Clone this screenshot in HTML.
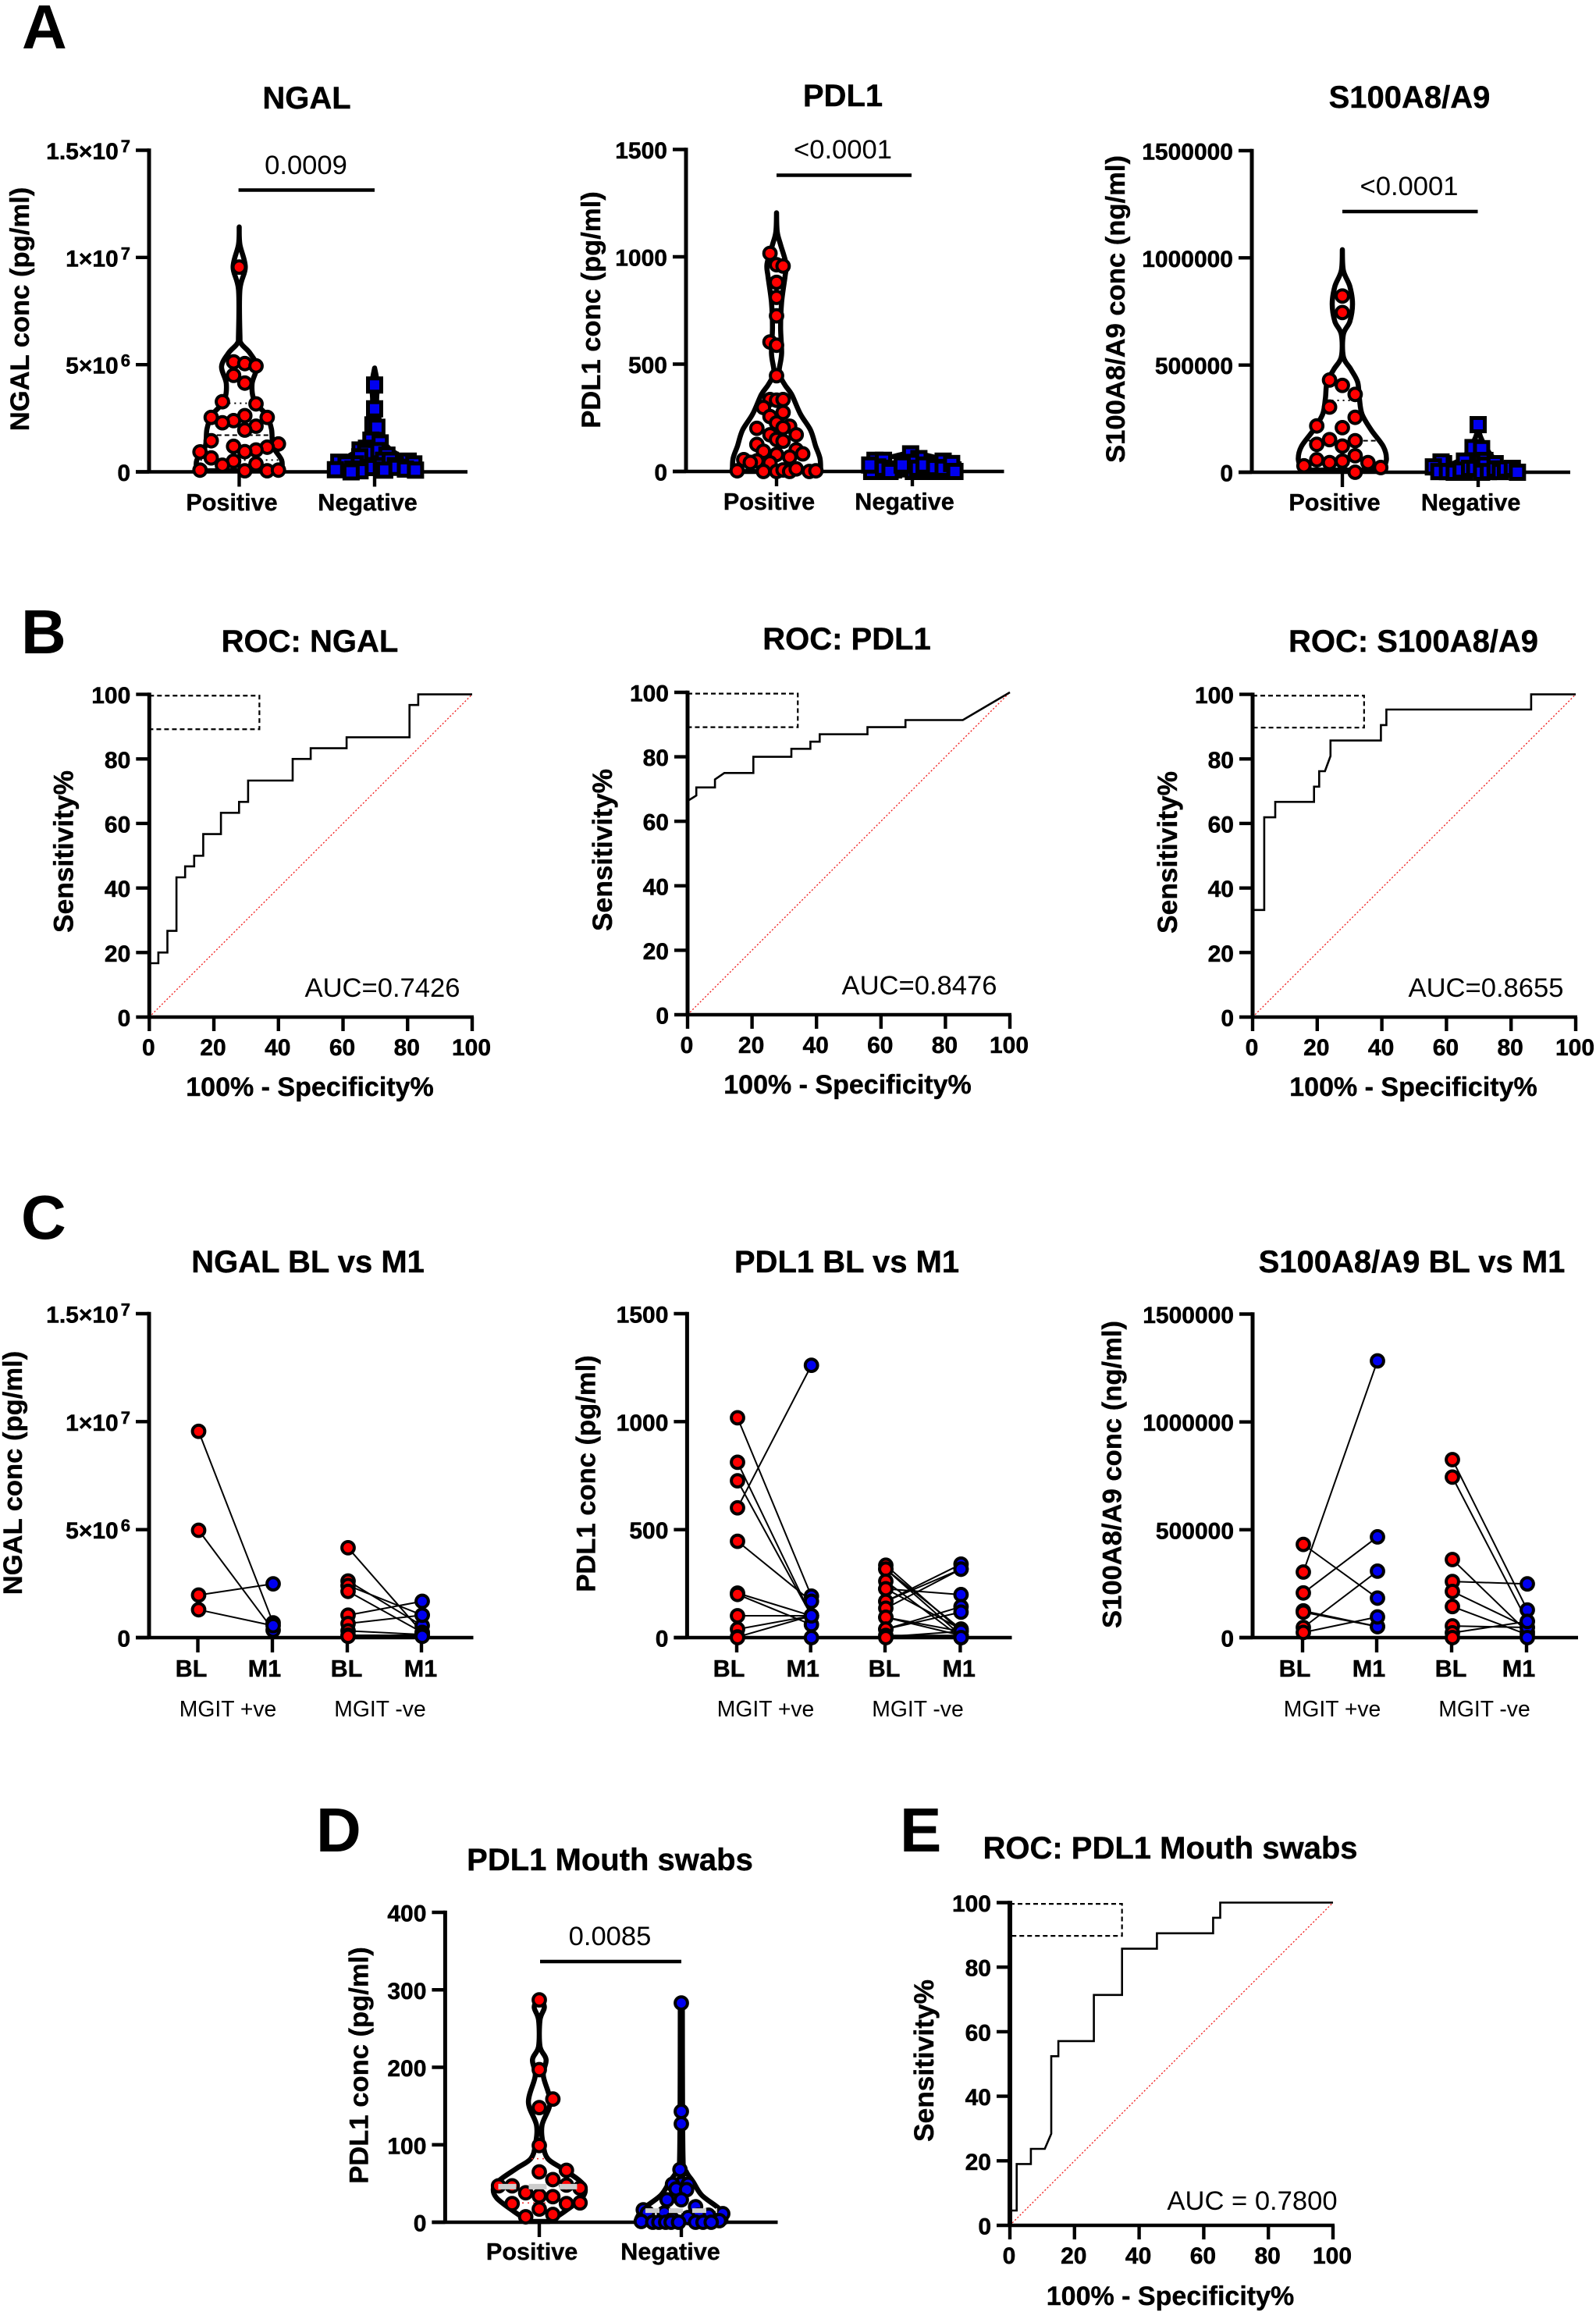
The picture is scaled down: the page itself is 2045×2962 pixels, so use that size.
<!DOCTYPE html>
<html lang="en">
<head>
<meta charset="utf-8">
<title>NGAL, PDL1 and S100A8/A9 figure</title>
<style>
html,body{margin:0;padding:0;background:#fff;}
svg{display:block;font-family:"Liberation Sans",Arial,sans-serif;fill:#000;}
.panel{font-weight:700;font-size:80px;}
.title{font-weight:700;font-size:40px;text-anchor:middle;stroke:#000;stroke-width:.4;}
.ylab{font-weight:700;font-size:34.6px;text-anchor:middle;stroke:#000;stroke-width:.4;}
.sens{font-weight:700;font-size:35.3px;text-anchor:middle;stroke:#000;stroke-width:.4;}
.xlab{font-weight:700;font-size:34px;text-anchor:middle;stroke:#000;stroke-width:.4;}
.cat{font-weight:700;font-size:30.6px;text-anchor:middle;stroke:#000;stroke-width:.4;}
.sig{font-weight:400;font-size:34.6px;text-anchor:middle;}
.grp{font-weight:400;font-size:28.3px;text-anchor:middle;}
.tick{stroke:#000;stroke-width:.5;}
</style>
</head>
<body>
<svg id="figure" xmlns="http://www.w3.org/2000/svg" width="2045" height="2962" viewBox="0 0 2045 2962">
<rect x="0" y="0" width="2045" height="2962" fill="#fff"/>

<text class="panel" x="28" y="62">A</text>
<text class="panel" x="27" y="837">B</text>
<text class="panel" x="27" y="1587">C</text>
<text class="panel" x="405" y="2372">D</text>
<text class="panel" x="1153" y="2372">E</text>

<!-- Panel A -->
<g id="a1">
<text class="title" x="393" y="139">NGAL</text>
<text class="ylab" transform="translate(37,396) rotate(-90)">NGAL conc (pg/ml)</text>
<text class="sig" x="392" y="223">0.0009</text>
<text class="cat" x="297" y="654">Positive</text>
<text class="cat" x="471" y="654">Negative</text>
</g>
<g id="a2">
<text class="title" x="1080" y="136">PDL1</text>
<text class="ylab" transform="translate(769,397) rotate(-90)">PDL1 conc (pg/ml)</text>
<text class="sig" x="1080" y="203">&lt;0.0001</text>
<text class="cat" x="985.5" y="653">Positive</text>
<text class="cat" x="1159" y="653">Negative</text>
</g>
<g id="a3">
<text class="title" x="1806" y="138">S100A8/A9</text>
<text class="ylab" transform="translate(1441,396) rotate(-90)">S100A8/A9 conc (ng/ml)</text>
<text class="sig" x="1805.5" y="250">&lt;0.0001</text>
<text class="cat" x="1710" y="654">Positive</text>
<text class="cat" x="1884.6" y="654">Negative</text>
</g>

<!-- Panel B -->
<g id="b1">
<text class="title" x="397" y="835">ROC: NGAL</text>
<text class="sens" transform="translate(93.5,1091) rotate(-90)">Sensitivity%</text>
<text class="xlab" x="397" y="1404">100% - Specificity%</text>
<text class="sig" x="490" y="1277">AUC=0.7426</text>
</g>
<g id="b2">
<text class="title" x="1085" y="832">ROC: PDL1</text>
<text class="sens" transform="translate(784,1089) rotate(-90)">Sensitivity%</text>
<text class="xlab" x="1086" y="1401">100% - Specificity%</text>
<text class="sig" x="1178" y="1274">AUC=0.8476</text>
</g>
<g id="b3">
<text class="title" x="1811" y="835">ROC: S100A8/A9</text>
<text class="sens" transform="translate(1508,1092) rotate(-90)">Sensitivity%</text>
<text class="xlab" x="1811" y="1404">100% - Specificity%</text>
<text class="sig" x="1904" y="1277">AUC=0.8655</text>
</g>

<!-- Panel C -->
<g id="c1">
<text class="title" x="394.6" y="1630">NGAL BL vs M1</text>
<text class="ylab" transform="translate(28,1887) rotate(-90)">NGAL conc (pg/ml)</text>
<text class="cat" x="245" y="2148">BL</text>
<text class="cat" x="339" y="2148">M1</text>
<text class="cat" x="444" y="2148">BL</text>
<text class="cat" x="539" y="2148">M1</text>
<text class="grp" x="292" y="2199">MGIT +ve</text>
<text class="grp" x="487" y="2199">MGIT -ve</text>
</g>
<g id="c2">
<text class="title" x="1085" y="1630">PDL1 BL vs M1</text>
<text class="ylab" transform="translate(762.6,1888) rotate(-90)">PDL1 conc (pg/ml)</text>
<text class="cat" x="934" y="2148">BL</text>
<text class="cat" x="1028.7" y="2148">M1</text>
<text class="cat" x="1133" y="2148">BL</text>
<text class="cat" x="1228.7" y="2148">M1</text>
<text class="grp" x="981" y="2199">MGIT +ve</text>
<text class="grp" x="1176" y="2199">MGIT -ve</text>
</g>
<g id="c3">
<text class="title" x="1809" y="1630">S100A8/A9 BL vs M1</text>
<text class="ylab" transform="translate(1436.6,1889) rotate(-90)">S100A8/A9 conc (ng/ml)</text>
<text class="cat" x="1659" y="2148">BL</text>
<text class="cat" x="1754" y="2148">M1</text>
<text class="cat" x="1859" y="2148">BL</text>
<text class="cat" x="1946" y="2148">M1</text>
<text class="grp" x="1707" y="2199">MGIT +ve</text>
<text class="grp" x="1902" y="2199">MGIT -ve</text>
</g>

<!-- Panel D -->
<g id="d1">
<text class="title" x="781.5" y="2396">PDL1 Mouth swabs</text>
<text class="ylab" transform="translate(471.7,2646) rotate(-90)">PDL1 conc (pg/ml)</text>
<text class="sig" x="781.5" y="2492">0.0085</text>
<text class="cat" x="681.6" y="2895">Positive</text>
<text class="cat" x="859" y="2895">Negative</text>
</g>

<!-- Panel E -->
<g id="e1">
<text class="title" x="1499.5" y="2381">ROC: PDL1 Mouth swabs</text>
<text class="sens" transform="translate(1196,2640) rotate(-90)">Sensitivity%</text>
<text class="xlab" x="1499.5" y="2953">100% - Specificity%</text>
<text class="sig" x="1604.5" y="2831">AUC = 0.7800</text>
</g>
</svg>

<script>
/* ---------- tick values and tick labels ---------- */
const ngalTicks = [0, 5e6, 1e7, 1.5e7];
const ngalTickLabels = ['0', '5×10^6', '1×10^7', '1.5×10^7'];
const pdl1Ticks = [0, 500, 1000, 1500];
const pdl1TickLabels = ['0', '500', '1000', '1500'];
const s100Ticks = [0, 500000, 1000000, 1500000];
const s100TickLabels = ['0', '500000', '1000000', '1500000'];
const mouthTicks = [0, 100, 200, 300, 400];
const mouthTickLabels = ['0', '100', '200', '300', '400'];
const rocTicks = [0, 20, 40, 60, 80, 100];
const rocTickLabels = ['0', '20', '40', '60', '80', '100'];

/* ---------- A: NGAL ---------- */
const ngalPosValues = [9.55e6,5.13e6,5.05e6,4.94e6,4.5e6,4.14e6,3.27e6,3.17e6,2.54e6,2.54e6,2.62e6,2.39e6,2.29e6,2.13e6,1.95e6,1.45e6,1.3e6,1.19e6,1.15e6,1.02e6,0.94e6,0.93e6,0.65e6,0.5e6,0.31e6,0.37e6,0.08e6,0.05e6,0.05e6,0.08e6];
const ngalPosSlots = [0,-0.5,0.5,1.5,-0.5,0.5,-1.5,1.5,-2.5,2.5,0.5,-0.5,-1.5,1.5,0.5,-2.5,3.5,-0.5,2.5,1.5,0.5,-3.5,-2.5,-0.5,-1.5,1.5,-3.5,0.5,2.5,3.5];
const ngalNegValues = [4.05e6,2.94e6,2.19e6,2.08e6,1.48e6,1.35e6,1.1e6,1.02e6,0.99e6,0.9e6,0.78e6,0.7e6,0.54e6,0.54e6,0.5e6,0.45e6,0.37e6,0.37e6,0.37e6,0.29e6,0.29e6,0.2e6,0.13e6,0.1e6,0.05e6,0,0.08e6,0.21e6,0.13e6,0.08e6];
const ngalNegSlots = [0,0,-0.15,0.2,-0.33,0.5,-0.73,-1.3,0.2,-0.8,1.1,-1.33,0.8,1.4,3,-3.2,-1.7,-2.55,3.5,0.2,1.85,-0.58,-1.94,-3.5,-1.3,-2.1,0.9,2,2.75,3.65];
const ngalPosDensityAt = [11.42e6,10.6e6,9.55e6,8.5e6,6.39e6,5.98e6,5.57e6,4.92e6,4.11e6,3.3e6,2.65e6,2e6,1.19e6,0.54e6,0.05e6];
const ngalPosDensity = [0,0.02,0.18,0.02,0.02,0.06,0.3,0.52,0.38,0.45,0.8,0.95,1,1.25,1.25];
const ngalNegDensityAt = [4.84e6,4.1e6,3.3e6,2.5e6,1.5e6,1e6,0.5e6,0];
const ngalNegDensity = [0,0.08,0.06,0.12,0.25,0.5,1,1.3];
const ngalPosMedian = [1.71e6];
const ngalPosQuartiles = [3.2e6, 0.55e6];

/* ---------- A: PDL1 ---------- */
const pdl1PosValues = [1016,963,957,881,811,725,603,588,446,335,332,335,298,275,256,226,211,204,201,171,171,149,141,126,101,94,82,79,67,49,55,42,40,3,0,0,7,0,12,0,3];
const pdl1PosSlots = [-1,0,1,0,0,0,-1,0,0,-1,0,1,-2,1,-1,0,2,1,-3,3,-1,0,1,-3,3,-2,4,0,2,-3,-5,-4,-1,-6,-2,0,1,2,3,5,6];
const pdl1NegValues = [52,52,21,0,0,12,82,60,42,0,0,3,48,0,7,0,7,15,0,30,15,30,18,15,37,0,30];
const pdl1NegSlots = [-5.7,-4.4,-5.3,-6.2,-4.1,-2.2,-0.26,1,-0.26,0.15,1.5,2.85,4.7,5.2,6.2,3.9,-2.85,-4.4,-3.4,-1.55,0.8,1.8,3.4,4.7,6,6.5,-6.5];
const pdl1PosDensityAt = [1205,1116,1056,967,908,789,670,551,476,446,402,357,268,193,119,60,0];
const pdl1PosDensity = [0,0.02,0.12,0.28,0.25,0.15,0.12,0.15,0.08,0.1,0.25,0.45,0.7,1,1.15,1.28,1.3];
const pdl1NegDensityAt = [80,50,20,0];
const pdl1NegDensity = [0.3,1,1.2,1.25];

/* ---------- A: S100A8/A9 ---------- */
const s100PosValues = [822000,745000,430000,405000,363000,304000,256000,216000,208000,152000,147000,130000,122000,77000,58000,45000,52000,45000,30000,22000,0];
const s100PosSlots = [0,0,-1,0,1,-1,1,-2,0,-1,1,-2,0,1,-2,-1,0,2,-3,3,1];
const s100NegValues = [222000,115000,110000,55000,48000,40000,48000,25000,3000,52000,3000,0,0,10000,18000,18000,33000,0,3000,40000,15000,3000,15000,18000,0];
const s100NegSlots = [0,-0.4,0.27,0.53,-0.8,-2.7,-2.9,-3.5,-3.07,-1.07,-2.4,-1.87,-1.07,-1.33,-0.67,-0.27,0.53,0.27,0.8,1.33,1.33,1.73,2.13,2.67,3.07];
const s100PosDensityAt = [1038000,941000,867000,785000,703000,643000,539000,480000,420000,345000,271000,197000,122000,63000,10000];
const s100PosDensity = [0,0.03,0.22,0.3,0.22,0.03,0.03,0.25,0.45,0.5,0.58,0.85,1.2,1.3,1.2];
const s100NegDensityAt = [235000,180000,110000,60000,30000,5000,0];
const s100NegDensity = [0.02,0.04,0.25,0.5,0.9,1.2,1.2];
const s100PosMedian = [147000];
const s100PosQuartiles = [335000];

/* ---------- B and E: ROC curve vertices ---------- */
const rocNgalFpr = [0,2.8,2.8,5.6,5.6,8.4,8.4,11.1,11.1,13.9,13.9,16.7,16.7,22.2,22.2,27.8,27.8,30.6,30.6,44.4,44.4,50,50,61.1,61.1,80.6,80.6,83.3,83.3,100];
const rocNgalTpr = [16.7,16.7,20,20,26.7,26.7,43.3,43.3,46.7,46.7,50,50,56.7,56.7,63.3,63.3,66.7,66.7,73.3,73.3,80,80,83.3,83.3,86.7,86.7,96.7,96.7,100,100];
const rocPdl1Fpr = [0,2.7,2.7,8.5,8.5,11.4,20.4,20.4,32.2,32.2,38.1,38.1,41,41,55.8,55.8,67.6,67.6,85.4,100];
const rocPdl1Tpr = [66.3,68,70.5,70.5,73,75,75,80,80,82.5,82.5,84.7,84.7,87,87,89.2,89.2,91.4,91.4,100];
const rocS100Fpr = [0,3.6,3.6,7,7,19,19,20.6,20.6,22.4,24.1,24.1,39.7,39.7,41.4,41.4,86.2,86.2,100];
const rocS100Tpr = [33.2,33.2,61.9,61.9,66.7,66.7,71.4,71.4,76.2,76.2,80.9,85.7,85.7,90.5,90.5,95.3,95.3,100,100];
const rocMouthFpr = [0,2.1,2.1,6.5,6.5,10.8,12.8,12.8,15,15,26,26,34.7,34.7,45.5,45.5,62.9,62.9,65.1,65.1,100];
const rocMouthTpr = [4.6,4.6,19,19,23.7,23.7,28.4,52.4,52.4,57.1,57.1,71.4,71.4,85.7,85.7,90.5,90.5,95.3,95.3,100,100];

/* ---------- C: paired values (same index = same subject) ---------- */
const ngalMgitPosBL = [9.55e6,4.97e6,1.97e6,1.29e6];
const ngalMgitPosM1 = [0.68e6,0.35e6,2.49e6,0.55e6];
const ngalMgitNegBL = [4.16e6,2.62e6,2.41e6,2.14e6,1.04e6,0.65e6,0.31e6,0.11e6,0.06e6];
const ngalMgitNegM1 = [0.24e6,0.55e6,1.04e6,0.24e6,1.68e6,1.04e6,0.14e6,0.11e6,0.06e6];
const pdl1MgitPosBL = [1018,812,726,601,446,206,200,101,39,3,0];
const pdl1MgitPosM1 = [192,101,101,1261,168,101,60,101,101,101,0];
const pdl1MgitNegBL = [335,317,317,261,226,226,168,168,136,94,94,39,39,10,4,0];
const pdl1MgitNegM1 = [29,10,39,0,199,39,340,317,317,29,10,143,118,10,29,0];
const pdl1BridgeM1 = [0];
const pdl1BridgeBL = [5];
const s100MgitPosBL = [432000,304000,207000,124000,118000,47000,24000];
const s100MgitPosM1 = [183000,1283000,467000,51000,51000,308000,96000];
const s100MgitNegBL = [825000,744000,362000,260000,214000,144000,54000,22000,0];
const s100MgitNegM1 = [128000,75000,26000,249000,47000,14000,47000,75000,0];

/* ---------- D: mouth swabs ---------- */
const mouthPosValues = [287,197,159,148,99,65,67,55,48,47,47,44,38,34,33,24,24,25,17,10,7];
const mouthPosSlots = [0,0,1,0,0,0,2,1,2,-3,-2,3,-1,0,1,-2,2,3,0,1,-1];
const mouthNegValues = [283,143,127,68,50,49,49,43,42,29,29,20,16,12,12,11,9,9,6,4,2,1,0,0,0,0,0,0,0,0];
const mouthNegSlots = [0,0,0,-0.2,0,-1.3,1,-0.77,0.77,-2.1,0,2.1,-5.6,-5,-2.5,6.1,4,2.5,1,-1.3,5.6,-5.9,-4.2,-3.3,-2.3,-1.5,-0.4,2.1,3.2,4.4];
const mouthPosDensityAt = [291,278,261,227,210,189,155,125,99,82,70,55,44,31,14,1];
const mouthPosDensity = [0,0.15,0.02,0.02,0.2,0.12,0.32,0.08,0.12,0.25,0.65,1.15,1.35,1.25,0.75,0.3];
const mouthNegDensityAt = [283,82,65,52,35,18,6,0];
const mouthNegDensity = [0.03,0.05,0.15,0.35,0.6,1.1,1.3,1.3];
const mouthPosMedian = [46];
const mouthPosQuartiles = [82, 25];
const mouthNegMedian = [15];

/* ---------- drawing helpers ---------- */
const SVG_NS = 'http://www.w3.org/2000/svg';
const RED = '#ff0000';
const BLUE = '#0000f0';

function mk(parent, tag, name, props) {
  const el = document.createElementNS(SVG_NS, tag);
  
  
  for (const k in props) el.setAttribute(k, props[k]);
  parent.appendChild(el);
  return el;
}
function line(parent, name, x1, y1, x2, y2, w, extra) {
  return mk(parent, 'line', name, Object.assign({x1, y1, x2, y2, stroke: '#000', 'stroke-width': w}, extra || {}));
}
function yScale(f, max) { return v => f.y0 - v / max * (f.y0 - f.y1); }

function tickText(parent, name, x, y, str, anchor) {
  const t = mk(parent, 'text', name, {x, y, 'text-anchor': anchor, 'font-size': 30, 'font-weight': 700, class: 'tick'});
  const parts = str.split('^');
  t.appendChild(document.createTextNode(parts[0]));
  if (parts[1]) {
    const s = document.createElementNS(SVG_NS, 'tspan');
    s.setAttribute('dx', 3);
    s.setAttribute('dy', -9);
    s.setAttribute('font-size', 22);
    s.textContent = parts[1];
    t.appendChild(s);
  }
}
function axisY(g, f, ticks, labels, max) {
  const y = yScale(f, max), w = f.w || 4.4;
  line(g, 'y-axis-line', f.x0, f.y1 - 2.2, f.x0, f.y0 + 2, f.yw || 5);
  ticks.forEach((v, i) => {
    line(g, 'y-tick', f.x0 - 17, y(v), f.x0, y(v), w);
    tickText(g, 'y-tick-label', f.x0 - 24, y(v) + 11.5, labels[i], 'end');
  });
}
function catAxis(g, f, tickXs) {
  line(g, 'x-axis-line', f.x0 - 17, f.y0, f.xEnd, f.y0, 4.4);
  tickXs.forEach(x => line(g, 'x-tick', x, f.y0, x, f.y0 + 19, 4.4));
}
function sigBar(g, x1, x2, y) { line(g, 'significance-bar', x1, y, x2, y, 4.4); }

function smooth(pts) {
  let d = '';
  for (let i = 0; i < pts.length - 1; i++) {
    const p0 = pts[Math.max(0, i - 1)], p1 = pts[i], p2 = pts[i + 1], p3 = pts[Math.min(pts.length - 1, i + 2)];
    const c1x = p1[0] + (p2[0] - p0[0]) / 6, c1y = p1[1] + (p2[1] - p0[1]) / 6;
    const c2x = p2[0] - (p3[0] - p1[0]) / 6, c2y = p2[1] - (p3[1] - p1[1]) / 6;
    d += ` C${c1x.toFixed(1)} ${c1y.toFixed(1)} ${c2x.toFixed(1)} ${c2y.toFixed(1)} ${p2[0].toFixed(1)} ${p2[1].toFixed(1)}`;
  }
  return d;
}
function violin(g, name, cx, y, at, density, densityPx, sw) {
  const right = at.map((v, i) => [cx + density[i] * densityPx, y(v)]);
  const left = at.map((v, i) => [cx - density[i] * densityPx, y(v)]).reverse();
  const d = `M${right[0][0]} ${right[0][1]}` + smooth(right) + ` L${left[0][0]} ${left[0][1]}` + smooth(left) + ' Z';
  mk(g, 'path', name, {d, fill: '#fff', stroke: '#000', 'stroke-width': sw || 6.5, 'stroke-linejoin': 'round'});
}
function densityAt(v, at, density) {
  for (let i = 0; i < at.length - 1; i++) {
    if (v <= at[i] && v >= at[i + 1]) {
      const t = (at[i] - v) / (at[i] - at[i + 1]);
      return density[i] + t * (density[i + 1] - density[i]);
    }
  }
  return 0;
}
function hLevel(g, name, cx, y, v, at, density, densityPx, style) {
  const hw = densityAt(v, at, density) * densityPx * 0.92;
  line(g, name, cx - hw, y(v), cx + hw, y(v), style.w, {'stroke-dasharray': style.dash, stroke: style.color});
}
function dots(g, name, cx, y, values, slots, slotPx, color) {
  values.forEach((v, i) => {
    mk(g, 'circle', name, {cx: cx + (slots ? slots[i] * slotPx : 0), cy: y(v), r: 7.9, fill: color, stroke: '#000', 'stroke-width': 4});
  });
}
function squares(g, name, cx, y, values, slots, slotPx, color) {
  const s = 17;
  values.forEach((v, i) => {
    mk(g, 'rect', name, {x: cx + slots[i] * slotPx - s / 2, y: y(v) - s / 2, width: s, height: s, fill: color, stroke: '#000', 'stroke-width': 5});
  });
}
function rocChart(g, f, fpr, tpr, boxX, boxY) {
  const x = v => f.x0 + v / 100 * (f.x1 - f.x0);
  const y = v => f.y0 - v / 100 * (f.y0 - f.y1);
  mk(g, 'line', 'line-of-identity', {x1: x(0), y1: y(0), x2: x(100), y2: y(100), stroke: '#f01818', 'stroke-width': 1.3, 'stroke-dasharray': '2 2.5'});
  mk(g, 'polyline', 'reference-box', {points: [[x(0), y(99.6)], [x(boxX), y(99.6)], [x(boxX), y(boxY)], [x(0), y(boxY)]].join(' '), fill: 'none', stroke: '#000', 'stroke-width': 2.2, 'stroke-dasharray': '6 4'});
  mk(g, 'polyline', 'roc-curve', {points: fpr.map((v, i) => x(v).toFixed(1) + ',' + y(tpr[i]).toFixed(1)).join(' '), fill: 'none', stroke: '#000', 'stroke-width': 2.6, 'stroke-linejoin': 'miter'});
  axisY(g, f, rocTicks, rocTickLabels, 100);
  line(g, 'x-axis-line', f.x0, f.y0, f.x1 + 2, f.y0, 4.4);
  rocTicks.forEach((v, i) => {
    line(g, 'x-tick', x(v), f.y0, x(v), f.y0 + 18, 4.4);
    tickText(g, 'x-tick-label', x(v) - 1, f.y0 + 49, rocTickLabels[i], 'middle');
  });
}
function pairs(g, name, xa, xb, y, a, b, w) {
  a.forEach((v, i) => line(g, name, xa, y(v), xb, y(b[i]), w || 2));
}
function pairedChart(g, f, ticks, labels, max, tickXs, posBL, posM1, negBL, negM1) {
  const y = yScale(f, max);
  const xs = tickXs.map(x => x + 1);
  axisY(g, f, ticks, labels, max);
  catAxis(g, f, tickXs);
  pairs(g, 'paired-line-mgit-positive', xs[0], xs[1], y, posBL, posM1);
  pairs(g, 'paired-line-mgit-negative', xs[2], xs[3], y, negBL, negM1);
  dots(g, 'point-bl-mgit-positive', xs[0], y, posBL, null, 0, RED);
  dots(g, 'point-m1-mgit-positive', xs[1], y, posM1, null, 0, BLUE);
  dots(g, 'point-bl-mgit-negative', xs[2], y, negBL, null, 0, RED);
  dots(g, 'point-m1-mgit-negative', xs[3], y, negM1, null, 0, BLUE);
}
const get = id => document.getElementById(id);
const DENSITY_PX = 43.5;
const thinMedian = {w: 2, dash: '6 4', color: '#000'};
const thinQuart = {w: 2, dash: '2 5', color: '#000'};
const grayMedian = {w: 7, dash: '23 16', color: '#cccccc'};
const grayMedianNeg = {w: 6, dash: '18 12', color: '#cccccc'};
const redQuart = {w: 1.5, dash: '2 5', color: '#f02020'};

/* ---------- panel A ---------- */
(function () {
  const g = get('a1'), f = {x0: 191, y1: 192.5, y0: 604.5, xEnd: 599}, y = yScale(f, 1.5e7), t = [306.5, 480];
  violin(g, 'violin-positive', t[0], y, ngalPosDensityAt, ngalPosDensity, DENSITY_PX);
  violin(g, 'violin-negative', t[1], y, ngalNegDensityAt, ngalNegDensity, DENSITY_PX);
  ngalPosMedian.forEach(v => hLevel(g, 'median-line', t[0], y, v, ngalPosDensityAt, ngalPosDensity, DENSITY_PX, thinMedian));
  ngalPosQuartiles.forEach(v => hLevel(g, 'quartile-line', t[0], y, v, ngalPosDensityAt, ngalPosDensity, DENSITY_PX, thinQuart));
  axisY(g, f, ngalTicks, ngalTickLabels, 1.5e7);
  catAxis(g, f, t);
  sigBar(g, 305.6, 480, 243.5);
  dots(g, 'point-positive', t[0], y, ngalPosValues, ngalPosSlots, 14.35, RED);
  squares(g, 'point-negative', t[1], y, ngalNegValues, ngalNegSlots, 14.35, BLUE);
})();
(function () {
  const g = get('a2'), f = {x0: 879, y1: 191.5, y0: 604, xEnd: 1286.5}, y = yScale(f, 1500), t = [995, 1169];
  violin(g, 'violin-positive', t[0], y, pdl1PosDensityAt, pdl1PosDensity, DENSITY_PX);
  violin(g, 'violin-negative', t[1], y, pdl1NegDensityAt, pdl1NegDensity, DENSITY_PX);
  axisY(g, f, pdl1Ticks, pdl1TickLabels, 1500);
  catAxis(g, f, t);
  sigBar(g, 995, 1168, 224.5);
  dots(g, 'point-positive', t[0], y, pdl1PosValues, pdl1PosSlots, 8.4, RED);
  squares(g, 'point-negative', t[1], y, pdl1NegValues, pdl1NegSlots, 8.4, BLUE);
})();
(function () {
  const g = get('a3'), f = {x0: 1604, y1: 193, y0: 605, xEnd: 2012}, y = yScale(f, 1500000), t = [1720, 1894];
  violin(g, 'violin-positive', t[0], y, s100PosDensityAt, s100PosDensity, DENSITY_PX);
  violin(g, 'violin-negative', t[1], y, s100NegDensityAt, s100NegDensity, DENSITY_PX);
  s100PosMedian.forEach(v => hLevel(g, 'median-line', t[0], y, v, s100PosDensityAt, s100PosDensity, DENSITY_PX, thinMedian));
  s100PosQuartiles.forEach(v => hLevel(g, 'quartile-line', t[0], y, v, s100PosDensityAt, s100PosDensity, DENSITY_PX, thinQuart));
  axisY(g, f, s100Ticks, s100TickLabels, 1500000);
  catAxis(g, f, t);
  sigBar(g, 1720, 1893.5, 271);
  dots(g, 'point-positive', t[0], y, s100PosValues, s100PosSlots, 16.4, RED);
  squares(g, 'point-negative', t[1], y, s100NegValues, s100NegSlots, 16.4, BLUE);
})();

/* ---------- panels B and E ---------- */
rocChart(get('b1'), {x0: 191.3, x1: 605, y1: 889.6, y0: 1303}, rocNgalFpr, rocNgalTpr, 34.1, 89.2);
rocChart(get('b2'), {x0: 881, x1: 1294, y1: 887, y0: 1300}, rocPdl1Fpr, rocPdl1Tpr, 34.2, 89.2);
rocChart(get('b3'), {x0: 1605, x1: 2019, y1: 889.6, y0: 1303}, rocS100Fpr, rocS100Tpr, 34.5, 89.7);
rocChart(get('e1'), {x0: 1294, x1: 1708, y1: 2437.5, y0: 2851, yw: 6}, rocMouthFpr, rocMouthTpr, 34.7, 89.7);

/* ---------- panel C ---------- */
pairedChart(get('c1'), {x0: 191, y1: 1683, y0: 2098, xEnd: 606.5}, ngalTicks, ngalTickLabels, 1.5e7, [253.5, 349, 445, 540], ngalMgitPosBL, ngalMgitPosM1, ngalMgitNegBL, ngalMgitNegM1);
(function () {
  const g = get('c2'), f = {x0: 880.4, y1: 1683, y0: 2098, xEnd: 1296.5}, y = yScale(f, 1500), t = [944, 1038.7, 1134, 1230.4];
  pairs(g, 'paired-line-bridge', t[1] + 1, t[2] + 1, y, pdl1BridgeM1, pdl1BridgeBL, 1.3);
  pairedChart(g, f, pdl1Ticks, pdl1TickLabels, 1500, t, pdl1MgitPosBL, pdl1MgitPosM1, pdl1MgitNegBL, pdl1MgitNegM1);
})();
pairedChart(get('c3'), {x0: 1605, y1: 1683.5, y0: 2098, xEnd: 2022}, s100Ticks, s100TickLabels, 1500000, [1669, 1764, 1860, 1956], s100MgitPosBL, s100MgitPosM1, s100MgitNegBL, s100MgitNegM1);

/* ---------- panel D ---------- */
(function () {
  const g = get('d1'), f = {x0: 570.4, y1: 2450, y0: 2847, xEnd: 996.5}, y = yScale(f, 400), t = [691, 873];
  violin(g, 'violin-positive', t[0], y, mouthPosDensityAt, mouthPosDensity, DENSITY_PX, 6.5);
  violin(g, 'violin-negative', t[1], y, mouthNegDensityAt, mouthNegDensity, DENSITY_PX, 6.5);
  mouthPosQuartiles.forEach(v => hLevel(g, 'quartile-line', t[0], y, v, mouthPosDensityAt, mouthPosDensity, DENSITY_PX, redQuart));
  axisY(g, f, mouthTicks, mouthTickLabels, 400);
  catAxis(g, f, t);
  sigBar(g, 692, 873, 2513);
  dots(g, 'point-positive', t[0], y, mouthPosValues, mouthPosSlots, 17.4, RED);
  dots(g, 'point-negative', t[1], y, mouthNegValues, mouthNegSlots, 8.7, BLUE);
  mouthPosMedian.forEach(v => hLevel(g, 'median-line', t[0], y, v, mouthPosDensityAt, mouthPosDensity, DENSITY_PX, grayMedian));
  mouthNegMedian.forEach(v => hLevel(g, 'median-line', t[1], y, v, mouthNegDensityAt, mouthNegDensity, DENSITY_PX, grayMedianNeg));
})();
</script>
</body>
</html>
